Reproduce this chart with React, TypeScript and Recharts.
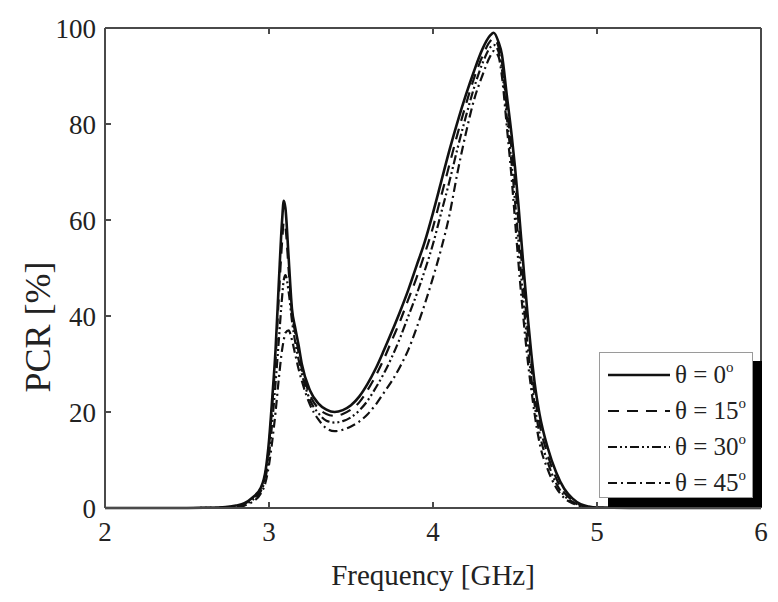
import React from "react";
import { LineChart, Line, XAxis, YAxis, Legend, Label } from "recharts";

const FREQ = [2.0, 2.5, 2.7, 2.8, 2.85, 2.9, 2.95, 2.98, 3.0, 3.02, 3.04, 3.06, 3.08, 3.09, 3.1, 3.12, 3.14, 3.16, 3.18, 3.2, 3.25, 3.3, 3.35, 3.4, 3.45, 3.5, 3.55, 3.6, 3.65, 3.7, 3.75, 3.8, 3.85, 3.9, 3.95, 4.0, 4.05, 4.1, 4.15, 4.2, 4.25, 4.3, 4.35, 4.37, 4.4, 4.42, 4.45, 4.48, 4.5, 4.52, 4.55, 4.58, 4.6, 4.62, 4.65, 4.7, 4.75, 4.8, 4.85, 4.9, 4.95, 5.0, 5.2, 6.0];

const PCR_0 = [0, 0, 0.1, 0.5, 1, 2.2, 4.2, 8, 14, 23, 33, 47, 60, 64, 62.5, 52, 41.5, 37.5, 34, 30, 24.5, 21.8, 20.5, 20, 20.4, 21.4, 23.2, 25.8, 29, 32.8, 36.8, 41, 45.5, 50.5, 55.5, 61.5, 68, 74.5, 80.5, 86, 91, 95.5, 98.5, 99, 97, 94.5, 86, 77.5, 71, 63.5, 51, 39, 32, 26, 19.5, 12.5, 7.5, 4, 2, 0.8, 0.3, 0.1, 0, 0];
const PCR_15 = [0, 0, 0.1, 0.4, 0.9, 2, 4, 7.5, 13, 21.5, 31, 44, 55.5, 59.5, 58.5, 49.5, 40.5, 36.5, 32.5, 29, 23.5, 20.8, 19.6, 19.2, 19.6, 20.5, 22, 24.5, 27.5, 31, 35, 39, 43.5, 48, 53, 58.5, 65, 71.5, 78, 84, 89.5, 94, 97.3, 97.8, 96, 93, 83.5, 74.5, 68, 60, 47.5, 36, 29.5, 23.5, 17.5, 11, 6.3, 3.2, 1.6, 0.6, 0.2, 0.1, 0, 0];
const PCR_30 = [0, 0, 0.05, 0.3, 0.7, 1.7, 3.5, 6.5, 11, 18, 26, 35, 44, 47.5, 48.5, 45, 39, 34.5, 31, 28, 22.5, 19.8, 18.2, 17.8, 18.1, 18.9, 20.3, 22.3, 25, 28, 31.5, 35.5, 40, 44.5, 49.5, 55, 61.5, 68, 75, 81.5, 87.5, 92.5, 96, 96.5, 95, 91.5, 81.5, 71.5, 64, 56, 43.5, 33, 27, 21.5, 15.5, 9.5, 5.2, 2.6, 1.3, 0.5, 0.15, 0.05, 0, 0];
const PCR_45 = [0, 0, 0, 0.2, 0.5, 1.3, 3, 5.5, 9, 14, 20, 27, 33, 35, 36.5, 37, 35, 32, 29, 26.5, 21.5, 18.5, 16.6, 16, 16.3, 17, 18, 19.5, 21.5, 24, 26.5, 29.5, 33, 37.5, 42.5, 48, 54, 61, 70, 78, 85, 90, 94.2, 95.2, 94, 90, 79.5, 68.5, 60, 51.5, 40, 30, 24.5, 19.5, 13.5, 8, 4.3, 2.1, 1, 0.4, 0.1, 0, 0, 0];

const X_TICKS = [2, 3, 4, 5, 6];
const Y_TICKS = [0, 20, 40, 60, 80, 100];

const SERIES = [
  { key: "t0", angle: "0", values: PCR_0, dash: undefined as string | undefined, width: 2.6 },
  { key: "t15", angle: "15", values: PCR_15, dash: "11 8", width: 2.2 },
  { key: "t30", angle: "30", values: PCR_30, dash: "9 3 2 3 2 3", width: 2.2 },
  { key: "t45", angle: "45", values: PCR_45, dash: "9 4 2 4", width: 2.2 },
];

const data = FREQ.map((f, i) => {
  const row: Record<string, number> = { f };
  SERIES.forEach((s) => {
    row[s.key] = s.values[i];
  });
  return row;
});

const FONT = "'Liberation Serif', 'Times New Roman', serif";
const AXIS_COLOR = "#4a4a4a";

const LegendBox = () => (
  <div
    style={{
      background: "#fff",
      border: "1.5px solid #9a9a9a",
      boxShadow: "9px 9px 0 0 #000",
      width: 154,
      height: 146,
      boxSizing: "border-box",
      paddingTop: 4,
      fontFamily: FONT,
      color: "#222",
    }}
  >
    {SERIES.map((s) => (
      <div key={s.key} style={{ display: "flex", alignItems: "center", height: 36 }}>
        <svg width={66} height={10} style={{ marginLeft: 8 }}>
          <line x1={0} y1={5} x2={62} y2={5} stroke="#111" strokeWidth={s.width} strokeDasharray={s.dash} />
        </svg>
        <span style={{ fontSize: 25, marginLeft: 1, whiteSpace: "nowrap" }}>
          {"θ = " + s.angle}
          <sup style={{ fontSize: 15, verticalAlign: "top", position: "relative", top: -2 }}>o</sup>
        </span>
      </div>
    ))}
  </div>
);

const YTitle = (props: any) => {
  const vb = props.viewBox || { x: 0, y: 0, width: 0, height: 0 };
  const cx = vb.x + 30;
  const cy = vb.y + vb.height / 2 + 59;
  return (
    <text
      x={cx}
      y={cy}
      transform={`rotate(-90 ${cx} ${cy})`}
      textAnchor="middle"
      dominantBaseline="central"
      fontFamily={FONT}
      fontSize={36}
      fill="#222"
    >
      PCR [%]
    </text>
  );
};

export default function App() {
  return (
    <LineChart
      width={770}
      height={594}
      data={data}
      margin={{ top: 0, right: 0, bottom: 0, left: 0 }}
    >
      <XAxis
        dataKey="f"
        type="number"
        domain={[2, 6]}
        ticks={X_TICKS}
        allowDataOverflow
        height={94}
        tickSize={-6}
        tickMargin={20}
        stroke={AXIS_COLOR}
        strokeWidth={2}
        tick={{ fill: "#222", fontSize: 27, fontFamily: FONT }}
      >
        <Label
          value="Frequency [GHz]"
          position="insideBottom"
          offset={17}
          style={{ fontFamily: FONT, fontSize: 29, fill: "#222" }}
        />
      </XAxis>
      <XAxis
        xAxisId="top"
        dataKey="f"
        type="number"
        orientation="top"
        domain={[2, 6]}
        ticks={X_TICKS}
        height={20}
        tickSize={-6}
        tickFormatter={() => ""}
        stroke={AXIS_COLOR}
        strokeWidth={2}
      />
      <YAxis
        type="number"
        domain={[0, 100]}
        ticks={Y_TICKS}
        width={97}
        tickSize={-6}
        tickMargin={15}
        stroke={AXIS_COLOR}
        strokeWidth={2}
        tick={{ fill: "#222", fontSize: 27, fontFamily: FONT }}
      >
        <Label content={<YTitle />} />
      </YAxis>
      <YAxis
        yAxisId="right"
        orientation="right"
        type="number"
        domain={[0, 100]}
        ticks={Y_TICKS}
        width={17}
        tickSize={-6}
        tickFormatter={() => ""}
        stroke={AXIS_COLOR}
        strokeWidth={2}
      />
      <Legend
        layout="horizontal"
        verticalAlign="middle"
        align="center"
        content={<LegendBox />}
        wrapperStyle={{ position: "absolute", left: 591, top: 344, width: 154, bottom: "auto", right: "auto" }}
      />
      {SERIES.map((s) => (
        <Line
          key={s.key}
          dataKey={s.key}
          name={"θ = " + s.angle}
          type="monotone"
          stroke="#111"
          strokeWidth={s.width}
          strokeDasharray={s.dash}
          dot={false}
          activeDot={false}
          isAnimationActive={false}
        />
      ))}
    </LineChart>
  );
}
